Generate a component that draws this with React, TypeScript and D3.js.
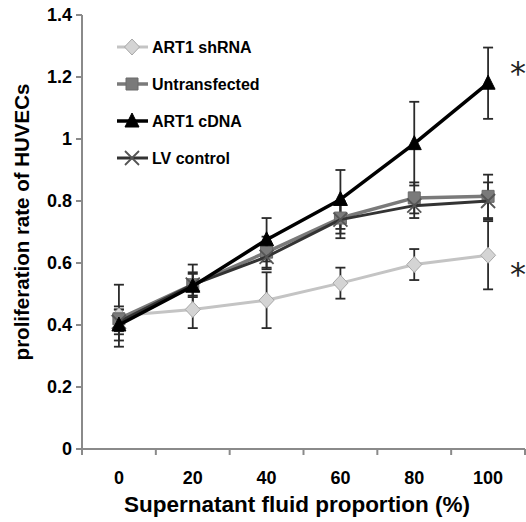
import React, { useEffect, useRef } from "react";
import * as d3 from "d3";

const categories = ["0", "20", "40", "60", "80", "100"];
const yTicks = [0, 0.2, 0.4, 0.6, 0.8, 1, 1.2, 1.4];

const shRNA = [0.43, 0.45, 0.48, 0.535, 0.595, 0.625];
const shRNAErr = [0.1, 0.06, 0.09, 0.05, 0.05, 0.11];
const untransfected = [0.42, 0.53, 0.635, 0.745, 0.81, 0.815];
const untransfectedErr = [0.04, 0.035, 0.05, 0.05, 0.05, 0.07];
const lvControl = [0.41, 0.53, 0.62, 0.74, 0.785, 0.8];
const lvControlErr = [0.04, 0.04, 0.04, 0.06, 0.04, 0.06];
const cDNA = [0.4, 0.525, 0.675, 0.805, 0.985, 1.18];
const cDNAErr = [0.05, 0.07, 0.07, 0.095, 0.135, 0.115];

const WIDTH = 526;
const HEIGHT = 522;
const FONT = "Liberation Sans, Arial, sans-serif";

type Series = {
  name: string;
  values: number[];
  errors: number[];
  line: string;
  lineWidth: number;
  marker: "diamond" | "square" | "triangle" | "cross";
  fill: string;
  stroke: string;
};

const series: Series[] = [
  { name: "ART1 shRNA", values: shRNA, errors: shRNAErr, line: "#c4c4c4", lineWidth: 3, marker: "diamond", fill: "#d4d4d4", stroke: "#a8a8a8" },
  { name: "Untransfected", values: untransfected, errors: untransfectedErr, line: "#7a7a7a", lineWidth: 3.5, marker: "square", fill: "#7a7a7a", stroke: "#6a6a6a" },
  { name: "ART1 cDNA", values: cDNA, errors: cDNAErr, line: "#000000", lineWidth: 3.5, marker: "triangle", fill: "#000000", stroke: "#000000" },
  { name: "LV control", values: lvControl, errors: lvControlErr, line: "#333333", lineWidth: 3, marker: "cross", fill: "none", stroke: "#555555" },
];

const drawOrder = [0, 1, 3, 2];

function markerPath(kind: Series["marker"]) {
  switch (kind) {
    case "diamond":
      return "M0,-8L7.5,0L0,8L-7.5,0Z";
    case "square":
      return "M-6,-6H6V6H-6Z";
    case "triangle":
      return "M0,-8L7,6H-7Z";
    default:
      return "M-7,-7L7,7M7,-7L-7,7";
  }
}

export default function App() {
  const ref = useRef<SVGSVGElement>(null);

  useEffect(() => {
    const container = ref.current;
    if (!container) return;
    const svg = d3.select(container);
    svg.selectAll("*").remove();

    const x = d3.scaleBand().domain(categories).range([82, 525]);
    const y = d3.scaleLinear().domain([0, 1.4]).range([449, 15]);
    const cx = (c: string) => (x(c) ?? 0) + x.bandwidth() / 2;

    // axes
    const axisColor = "#8a8a8a";
    svg.append("line").attr("x1", 82).attr("x2", 82).attr("y1", y(1.4)).attr("y2", y(0))
      .attr("stroke", axisColor).attr("stroke-width", 2);
    svg.append("line").attr("x1", 82).attr("x2", 525).attr("y1", y(0)).attr("y2", y(0))
      .attr("stroke", axisColor).attr("stroke-width", 2);

    const yAxis = svg.append("g");
    yTicks.forEach((t) => {
      yAxis.append("line").attr("x1", 76).attr("x2", 82).attr("y1", y(t)).attr("y2", y(t))
        .attr("stroke", axisColor).attr("stroke-width", 2);
      yAxis.append("text").attr("x", 72).attr("y", y(t)).attr("dy", "0.36em")
        .attr("text-anchor", "end").attr("font-size", 18).attr("font-weight", "bold")
        .attr("font-family", FONT).text(d3.format("~g")(t));
    });

    const bounds = categories.map((c) => x(c) ?? 0).concat([x.range()[1]]);
    bounds.forEach((b) => {
      svg.append("line").attr("x1", b).attr("x2", b).attr("y1", y(0)).attr("y2", y(0) + 6)
        .attr("stroke", axisColor).attr("stroke-width", 2);
    });
    categories.forEach((c) => {
      svg.append("text").attr("x", cx(c)).attr("y", 484).attr("text-anchor", "middle")
        .attr("font-size", 18).attr("font-weight", "bold")
        .attr("font-family", FONT).text(c);
    });

    svg.append("text").attr("x", 297).attr("y", 512).attr("text-anchor", "middle")
      .attr("font-size", 22.5).attr("font-weight", "bold")
      .attr("font-family", FONT)
      .text("Supernatant fluid proportion (%)");
    svg.append("text").attr("transform", "translate(29,222) rotate(-90)")
      .attr("text-anchor", "middle").attr("font-size", 20.5).attr("font-weight", "bold")
      .attr("font-family", FONT)
      .text("proliferation rate of HUVECs");

    // error bars
    drawOrder.forEach((i) => {
      const s = series[i];
      const g = svg.append("g").attr("stroke", "#2a2a2a").attr("stroke-width", 1.8);
      s.values.forEach((v, j) => {
        const px = cx(categories[j]);
        const top = y(v + s.errors[j]);
        const bot = y(v - s.errors[j]);
        g.append("line").attr("x1", px).attr("x2", px).attr("y1", top).attr("y2", bot);
        g.append("line").attr("x1", px - 5).attr("x2", px + 5).attr("y1", top).attr("y2", top);
        g.append("line").attr("x1", px - 5).attr("x2", px + 5).attr("y1", bot).attr("y2", bot);
      });
    });

    // lines and markers
    const line = d3.line<number>().x((_, j) => cx(categories[j])).y((v) => y(v));
    drawOrder.forEach((i) => {
      const s = series[i];
      svg.append("path").attr("d", line(s.values)).attr("fill", "none")
        .attr("stroke", s.line).attr("stroke-width", s.lineWidth).attr("stroke-linejoin", "round");
      s.values.forEach((v, j) => {
        svg.append("path").attr("d", markerPath(s.marker))
          .attr("transform", `translate(${cx(categories[j])},${y(v)})`)
          .attr("fill", s.fill).attr("stroke", s.stroke).attr("stroke-width", s.marker === "cross" ? 1.8 : 1);
      });
    });

    // legend
    const legend = svg.append("g");
    series.forEach((s, i) => {
      const ly = 47 + i * 37;
      legend.append("line").attr("x1", 117).attr("x2", 148).attr("y1", ly).attr("y2", ly)
        .attr("stroke", s.line).attr("stroke-width", s.lineWidth);
      legend.append("path").attr("d", markerPath(s.marker))
        .attr("transform", `translate(132,${ly})`)
        .attr("fill", s.fill).attr("stroke", s.stroke).attr("stroke-width", s.marker === "cross" ? 1.8 : 1);
      legend.append("text").attr("x", 152).attr("y", ly).attr("dy", "0.36em")
        .attr("font-size", 16).attr("font-weight", "bold")
        .attr("font-family", FONT).text(s.name);
    });

    // significance marks
    [84, 285].forEach((by) => {
      svg.append("text").attr("x", 518).attr("y", by).attr("text-anchor", "middle")
        .attr("font-size", 32).attr("font-family", "DejaVu Sans, sans-serif")
        .attr("fill", "#222").text("*");
    });
  }, [ref]);

  return (
    <svg
      ref={ref}
      width={WIDTH}
      height={HEIGHT}
      style={{ position: "absolute", left: 0, top: 0, background: "#fff" }}
    />
  );
}
